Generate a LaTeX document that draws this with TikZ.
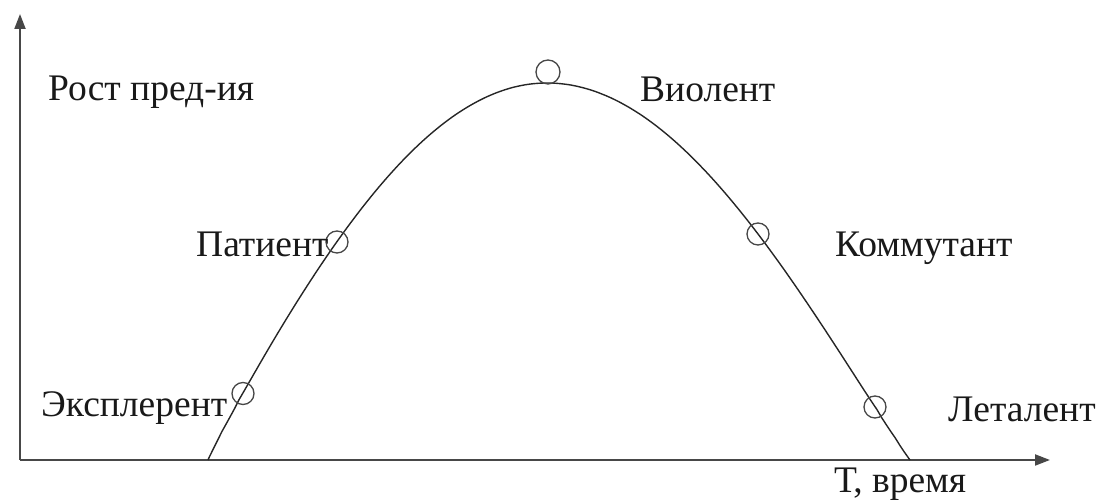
\documentclass[tikz,border=0pt]{standalone}
\usepackage{fontspec}
\setmainfont{Liberation Serif}
\usetikzlibrary{arrows.meta}
\begin{document}
\begin{tikzpicture}[x=1pt,y=1pt,
  axisline/.style={draw=black!72,line width=2pt,-{Triangle[length=15pt,width=11pt]}},
  curveline/.style={draw=black!85,line width=1.4pt},
  marker/.style={circle,draw=black!72,line width=1.3pt,minimum size=22pt,inner sep=0pt},
  lbl/.style={anchor=base west,inner sep=0pt,font=\fontsize{37.5}{44}\selectfont,text=black!90}]
\useasboundingbox (0,0) rectangle (1096,500);
\coordinate (origin) at (20,40);
\coordinate (ytip) at (20,486);
\coordinate (xtip) at (1050,40);
\coordinate (cstart) at (208,40);
\coordinate (cend) at (910,40);
\draw[axisline] (origin) -- (ytip);
\draw[axisline] (origin) -- (xtip);
\draw[curveline] (cstart) -- plot[domain=209:547,samples=80] (\x,{40+377*pow(sin((\x-208)*0.265487),0.95)})
  -- plot[domain=547:909,samples=80] (\x,{40+377*pow(sin((910-\x)*0.247934),1.04)}) -- (cend);
\node[marker] (m1) at (243,106.5) {};
\node[marker] (m2) at (337,258) {};
\node[marker,minimum size=24pt] (m3) at (548,428) {};
\node[marker] (m4) at (758,266) {};
\node[marker] (m5) at (875,93) {};
\node[lbl] (growth) at (48,399) {Рост пред-ия};
\node[lbl] (violent) at (640,398) {Виолент};
\node[lbl] (patient) at (196,243) {Патиент};
\node[lbl] (commut) at (835,243) {Коммутант};
\node[lbl] (expl) at (41,83) {Эксплерент};
\node[lbl] (letal) at (948,78) {Леталент};
\node[lbl] (time) at (834,7) {Т, время};
\end{tikzpicture}
\end{document}
